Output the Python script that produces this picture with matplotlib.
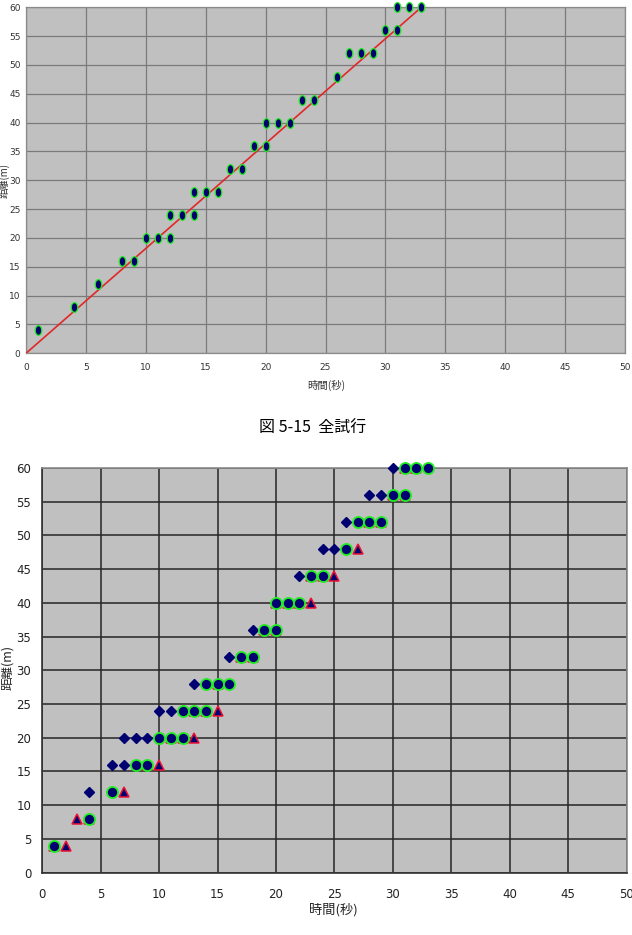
import matplotlib
matplotlib.use('Agg')
import matplotlib.pyplot as plt
from matplotlib.path import Path
from matplotlib.transforms import Affine2D

plt.rcParams['font.family'] = ['DejaVu Sans', 'Noto Sans CJK JP']

# ---- Top chart: all trials (図 5-15 全試行) ----
all_t = [1, 4, 6, 8, 9, 10, 11, 12, 12, 13, 14, 14, 15, 16, 17, 18, 19, 20, 20,
         21, 22, 23, 24, 26, 27, 28, 29, 30, 31, 31, 32, 33]
all_d = [4, 8, 12, 16, 16, 20, 20, 20, 24, 24, 24, 28, 28, 28, 32, 32, 36, 36, 40,
         40, 40, 44, 44, 48, 52, 52, 52, 56, 56, 60, 60, 60]
line_t = [0, 33]
line_d = [0, 60]

# ---- Bottom chart series ----
dia_t = [4, 6, 7, 7, 8, 9, 10, 11, 13, 16, 18, 22, 24, 25, 26, 28, 29, 30]
dia_d = [12, 16, 16, 20, 20, 20, 24, 24, 28, 32, 36, 44, 48, 48, 52, 56, 56, 60]
tri_t = [1, 2, 3, 4, 7, 9, 10, 11, 12, 13, 13, 14, 15, 15, 17, 18, 19, 20, 20, 21,
         22, 23, 23, 24, 25, 27, 28, 29, 30, 31, 31, 32]
tri_d = [4, 4, 8, 8, 12, 16, 16, 20, 20, 20, 24, 24, 24, 28, 32, 32, 36, 36, 40, 40,
         40, 40, 44, 44, 44, 48, 52, 52, 56, 56, 60, 60]
cir_t = all_t
cir_d = all_d

x_ticks = list(range(0, 51, 5))
y_ticks = list(range(0, 61, 5))
caption = '図 5-15  全試行'
xlabel = '時間(秒)'
ylabel = '距離(m)'

W, H = 632, 935
fig = plt.figure(figsize=(W / 100, H / 100), dpi=100)

def fx(px):
    return px / W

def fy(py):
    return 1 - py / H

navy = '#000070'
green = '#22EE22'
plot_bg = '#C0C0C0'

# ---------------- top chart ----------------
L, R, T, B = 26, 625, 7.3, 353.3
ax1 = fig.add_axes([fx(L), fy(B), (R - L) / W, (B - T) / H])
ax1.set_facecolor(plot_bg)
ax1.set_xlim(0, 50)
ax1.set_ylim(0, 60)
ax1.set_xticks(x_ticks)
ax1.set_yticks(y_ticks)
ax1.grid(True, color='#7a7a7a', linewidth=0.9)
ax1.set_axisbelow(True)
for s in ax1.spines.values():
    s.set_color('#8a8a8a')
    s.set_linewidth(0.9)
ax1.tick_params(length=0, pad=7, colors='#333333')
for lab in ax1.get_xticklabels() + ax1.get_yticklabels():
    lab.set_fontfamily(['Liberation Sans Narrow', 'DejaVu Sans'])
    lab.set_fontsize(6.5)
ax1.tick_params(axis='y', pad=4)

ell = Path.unit_circle().transformed(Affine2D().scale(0.68, 1.0))
ax1.plot(line_t, line_d, color='#E02828', linewidth=1.2, zorder=3)
ax1.plot(all_t, all_d, linestyle='none', marker=ell, markersize=7,
         markerfacecolor=navy, markeredgecolor=green, markeredgewidth=0.9,
         clip_on=False, zorder=4)

fig.text(fx(326), fy(385), xlabel, ha='center', va='center', fontsize=7.5,
         family=['Noto Sans CJK JP'], color='#333333')
fig.text(fx(4.5), fy(180), ylabel, ha='center', va='center', fontsize=7,
         rotation=90, family=['Noto Sans CJK JP'], color='#333333')

fig.text(fx(313), fy(428), caption, ha='center', va='center', fontsize=11.5,
         family=['Noto Sans CJK JP', 'DejaVu Sans'])

# ---------------- bottom chart ----------------
L2, R2, T2, B2 = 42.3, 626.5, 468, 872.5
ax2 = fig.add_axes([fx(L2), fy(B2), (R2 - L2) / W, (B2 - T2) / H])
ax2.set_facecolor(plot_bg)
ax2.set_xlim(0, 50)
ax2.set_ylim(0, 60)
ax2.set_xticks(x_ticks)
ax2.set_yticks(y_ticks)
ax2.grid(True, color='#262626', linewidth=1.1)
ax2.set_axisbelow(True)
for k, s in ax2.spines.items():
    s.set_color('#333333' if k in ('left', 'bottom') else '#8a8a8a')
    s.set_linewidth(1.2)
ax2.tick_params(length=0, labelsize=8.5, colors='#222222')
ax2.tick_params(axis='x', pad=11)
ax2.tick_params(axis='y', pad=8)

ax2.plot(dia_t, dia_d, linestyle='none', marker='D', markersize=5.5,
         markerfacecolor=navy, markeredgecolor=navy, clip_on=False, zorder=3)
ax2.plot(tri_t, tri_d, linestyle='none', marker='^', markersize=7,
         markerfacecolor=navy, markeredgecolor='#EE1133', markeredgewidth=1.1,
         clip_on=False, zorder=4)
ax2.plot(cir_t, cir_d, linestyle='none', marker='o', markersize=8,
         markerfacecolor=navy, markeredgecolor=green, markeredgewidth=1.3,
         clip_on=False, zorder=5)

fig.text(fx(333), fy(910), xlabel, ha='center', va='center', fontsize=9.5,
         family=['Noto Sans CJK JP'], color='#222222')
fig.text(fx(8), fy(668), ylabel, ha='center', va='center', fontsize=9,
         rotation=90, family=['Noto Sans CJK JP'], color='#222222')

fig.savefig('out.png', dpi=100)
